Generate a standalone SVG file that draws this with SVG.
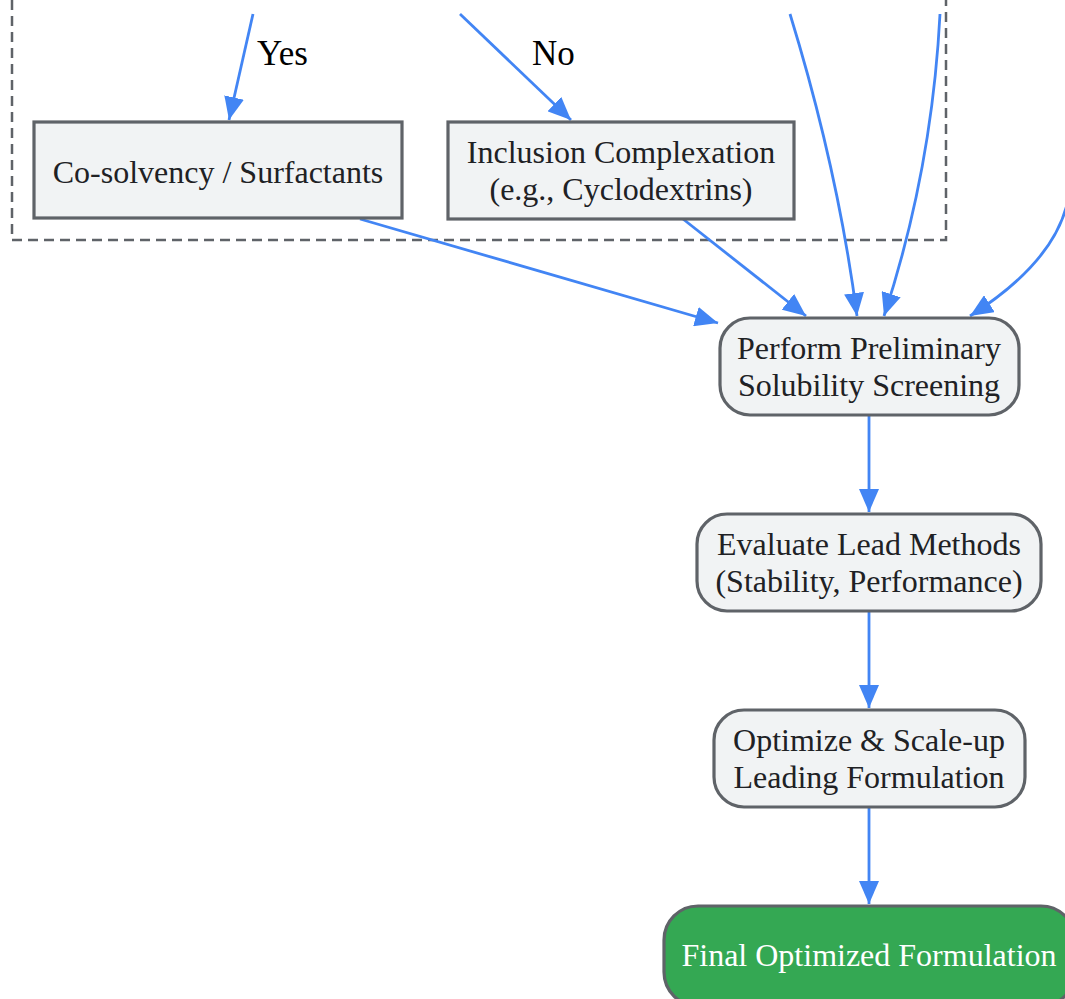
<svg xmlns="http://www.w3.org/2000/svg" width="1065" height="999" viewBox="0 0 1065 999">
<style>
.box{fill:#f1f3f4;stroke:#5f6368;stroke-width:3.2}
.fin{fill:#34a853;stroke:#5f6368;stroke-width:3.2}
.t{font-family:"Liberation Serif","Times New Roman",serif;font-size:32px;fill:#202124;text-anchor:middle}
.w{fill:#ffffff}
.lbl{font-family:"Liberation Serif","Times New Roman",serif;font-size:35px;fill:#000000}
.e{fill:none;stroke:#4285f4;stroke-width:2.8;marker-end:url(#ah)}
.cl{fill:none;stroke:#5f6368;stroke-width:2.5;stroke-dasharray:10 6}
</style>
<defs>
<marker id="ah" markerUnits="userSpaceOnUse" markerWidth="23" markerHeight="20" viewBox="0 0 23 20" refX="23" refY="10" orient="auto">
<path d="M0,0 L23,10 L0,20 z" fill="#4285f4"/>
</marker>
</defs>
<g id="cluster">
<rect class="cl" x="12" y="-30" width="934" height="270"/>
</g>
<g id="connectors">
<path class="e" d="M253,14 L229,120"/>
<path class="e" d="M460,14 L571,120"/>
<path class="e" d="M790,14 Q838,170 857,316"/>
<path class="e" d="M940,14 Q932,170 884,316"/>
<path class="e" d="M1068,200 Q1055,262 970,316"/>
<path class="e" d="M360,219 L718,323"/>
<path class="e" d="M683,219 L806,316"/>
<path class="e" d="M869,416 L869,512"/>
<path class="e" d="M869,612 L869,708"/>
<path class="e" d="M869,808 L869,904"/>
<text class="lbl" x="257" y="65">Yes</text>
<text class="lbl" x="532" y="65">No</text>
</g>
<g id="cosolvency">
<rect class="box" x="34" y="122" width="368" height="96"/>
<text class="t" x="218" y="183">Co-solvency / Surfactants</text>
</g>
<g id="inclusion">
<rect class="box" x="448" y="122" width="346" height="97"/>
<text class="t" x="621" y="163">Inclusion Complexation</text>
<text class="t" x="621" y="200">(e.g., Cyclodextrins)</text>
</g>
<g id="screening">
<rect class="box" x="720" y="318" width="299" height="97" rx="30" ry="30"/>
<text class="t" x="869" y="359">Perform Preliminary</text>
<text class="t" x="869" y="396">Solubility Screening</text>
</g>
<g id="evaluate">
<rect class="box" x="697" y="514" width="344" height="97" rx="30" ry="30"/>
<text class="t" x="869" y="555">Evaluate Lead Methods</text>
<text class="t" x="869" y="592">(Stability, Performance)</text>
</g>
<g id="optimize">
<rect class="box" x="714" y="710" width="311" height="97" rx="30" ry="30"/>
<text class="t" x="869" y="751">Optimize &amp; Scale-up</text>
<text class="t" x="869" y="788">Leading Formulation</text>
</g>
<g id="final">
<rect class="fin" x="664" y="906" width="411" height="100" rx="34" ry="34"/>
<text class="t w" x="869" y="966">Final Optimized Formulation</text>
</g>
</svg>
